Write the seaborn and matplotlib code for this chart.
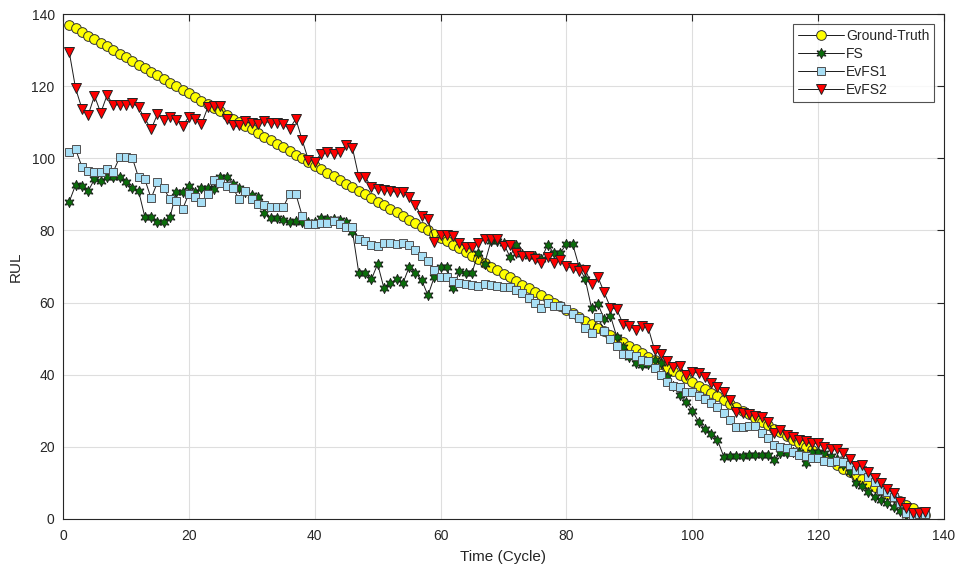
import numpy as np
import pandas as pd
import matplotlib
matplotlib.use("Agg")
import matplotlib.pyplot as plt
import seaborn as sns

cycles = list(range(1, 138))
ground_truth = [138 - c for c in cycles]

fs = [88, 92.6, 92.3, 90.9, 94.2, 93.7, 94.7, 94.9, 94.7, 93.3,
      91.7, 91, 83.8, 83.8, 82.4, 82.4, 83.6, 90.7, 90.7, 92.3,
      90.7, 91.7, 91.7, 91.4, 94.9, 94.9, 93, 91.7, 90.7, 89.8,
      89.2, 84.9, 83.4, 83.4, 82.9, 82.4, 82.6, 82.2, 82.2, 82.4,
      83.4, 83.1, 83.1, 82.9, 82.4, 79.7, 68.3, 68.3, 66.4, 70.7,
      64, 65.3, 66.4, 65.3, 69.8, 68.3, 66.2, 62, 67.1, 69.8,
      69.8, 64, 68.8, 68.3, 68.3, 73.8, 70.8, 77, 77, 76.6,
      72.7, 76, 73.5, 73, 72.8, 72, 76, 73.7, 73.7, 76.2,
      76.2, 70, 66.4, 58.4, 59.7, 55.4, 56.3, 50.5, 47.8, 45,
      43.2, 42.7, 43, 44.1, 43.3, 39.5, 37, 34.4, 32.5, 30,
      27, 24.9, 23.6, 21.9, 17.3, 17.6, 17.6, 17.6, 17.8, 17.8,
      17.8, 17.8, 16.4, 18.2, 18.2, 18.7, 18.5, 15.6, 18.5, 18.5,
      18.2, 17.5, 16.5, 15, 13.1, 9.9, 9.1, 7.6, 6.2, 5.3,
      4.3, 3.2, 2.3, 1.1, 1, 1, 1]

evfs1 = [101.8, 102.5, 97.7, 96.6, 96.3, 96.3, 96.9, 96.3, 100.3, 100.3,
         100.2, 94.7, 94.2, 88.9, 93.3, 91.7, 88.6, 88.2, 85.9, 90.1,
         89.4, 88, 90.1, 94, 93.2, 92.3, 91.7, 88.7, 90.8, 88.6,
         87.3, 87, 86.4, 86.4, 86.4, 90.1, 90.1, 84.1, 81.8, 81.8,
         82, 82, 82.5, 81.8, 81, 81, 77.6, 77.2, 76, 75.8,
         76.4, 76.4, 76.2, 76.5, 76, 74.5, 73, 71.5, 69.1, 67.2,
         67.2, 66.1, 65.3, 65.1, 64.9, 64.6, 65.2, 64.9, 64.6, 64.2,
         64.2, 63.5, 62.6, 61.4, 59.8, 58.4, 60, 59.1, 59, 58.3,
         56.8, 55.6, 52.9, 51.7, 55.9, 52.2, 49.8, 48, 45.7, 45.7,
         45.2, 44.1, 43.9, 41.8, 39.9, 38.1, 36.9, 36.5, 35.3, 35.3,
         34.1, 33.4, 32.2, 31, 29.5, 27.4, 25.4, 25.4, 25.8, 25.8,
         23.9, 22.4, 20.5, 20, 19.6, 18.7, 17.7, 17.4, 16.9, 16.9,
         16.2, 15.9, 16.1, 15.9, 15, 13.6, 13.6, 11.7, 10.3, 8,
         7.6, 6.2, 4.5, 1.6, 1.2, 1.3, 1.5]

evfs2 = [129.4, 119.4, 113.8, 112, 117.3, 112.6, 117.5, 114.8, 114.8, 114.8,
         115.4, 114.1, 111.1, 108, 112.2, 110.6, 111.5, 110.6, 109, 111.5,
         110.8, 109.4, 114.1, 114.5, 114.5, 110.9, 109.2, 109.2, 110.3, 109.7,
         109.4, 110.4, 109.7, 109.9, 109.4, 108.2, 110.9, 105.1, 99.5, 99.1,
         101.2, 101.8, 101.2, 101.8, 103.7, 102.8, 94.9, 94.9, 92, 91.5,
         91.2, 90.9, 90.6, 90.6, 89.4, 87, 84, 83.1, 76.9, 78.7,
         78.7, 78.5, 76.6, 75.5, 75.3, 76.6, 77.5, 77.5, 77.5, 75.7,
         76, 73.8, 72.9, 72.9, 72, 70.9, 72.5, 71.1, 71.8, 70.1,
         69.5, 68.7, 69, 65.2, 67.1, 62.8, 58.6, 58.1, 54.1, 53.5,
         52.4, 53.5, 53, 46.9, 45.7, 43.9, 42.2, 42.5, 39.9, 40.8,
         40.4, 39.5, 37.6, 36.5, 35.3, 33, 29.8, 29.3, 29.1, 28.6,
         28.2, 27, 23.8, 24.7, 23.3, 22.8, 21.9, 21.7, 21, 21,
         19.9, 19.4, 19.3, 18.2, 16.6, 14.7, 14.9, 12.9, 11.3, 10.1,
         8.2, 7.1, 4.8, 3, 1.8, 1.8, 2]

series_names = ["Ground-Truth", "FS", "EvFS1", "EvFS2"]
x_ticks = [0, 20, 40, 60, 80, 100, 120, 140]
y_ticks = [0, 20, 40, 60, 80, 100, 120, 140]

sns.set_style("white")
plt.rcParams['font.family'] = ['Liberation Sans', 'DejaVu Sans']

fig = plt.figure(figsize=(9.59, 5.71), dpi=100)
ax = fig.add_axes([63/959, 1 - 519/571, (944 - 63)/959, (519 - 14)/571])

styles = [
    dict(marker='o', markersize=7, markerfacecolor='#ffff00', markeredgecolor='#333333', markeredgewidth=0.7),
    dict(marker=(6, 1, 0), markersize=7.5, markerfacecolor='#0a6e0a', markeredgecolor='#1a1a1a', markeredgewidth=0.6),
    dict(marker='s', markersize=6.3, markerfacecolor='#a8dff5', markeredgecolor='#505050', markeredgewidth=0.7),
    dict(marker='v', markersize=7.2, markerfacecolor='#ff0000', markeredgecolor='#222222', markeredgewidth=0.7),
]
values = [ground_truth, fs, evfs1, evfs2]

for name, vals, st in zip(series_names, values, styles):
    df = pd.DataFrame({"Cycle": cycles, "RUL": vals})
    sns.lineplot(data=df, x="Cycle", y="RUL", ax=ax, color='#1a1a1a', linewidth=0.7,
                 sort=False, estimator=None, label=name, **st)

ax.set_xlim(0, 140)
ax.set_ylim(0, 140)
ax.set_xticks(x_ticks)
ax.set_yticks(y_ticks)
ax.grid(True, color='#dedede', linewidth=0.8)
ax.set_axisbelow(True)
for sp in ax.spines.values():
    sp.set_color('#262626')
    sp.set_linewidth(0.8)
    sp.set_visible(True)
ax.tick_params(direction='in', length=5, width=0.8, colors='#262626', labelsize=10,
               top=True, right=True, labelcolor='#262626')
ax.tick_params(axis='x', pad=7)
ax.tick_params(axis='y', pad=6)
ax.set_xlabel("Time (Cycle)", fontsize=11, color='#262626', labelpad=5)
ax.set_ylabel("RUL", fontsize=11, color='#262626', labelpad=6)

leg = ax.legend(loc='upper right', bbox_to_anchor=((934 - 63) / 881, (519 - 24) / 505),
                borderaxespad=0, frameon=True, fancybox=False,
                edgecolor='#262626', fontsize=10, handlelength=3.3, borderpad=0.35,
                labelspacing=0.3, handletextpad=0.15)
leg.get_frame().set_linewidth(0.8)

fig.savefig("out.png", dpi=100)
